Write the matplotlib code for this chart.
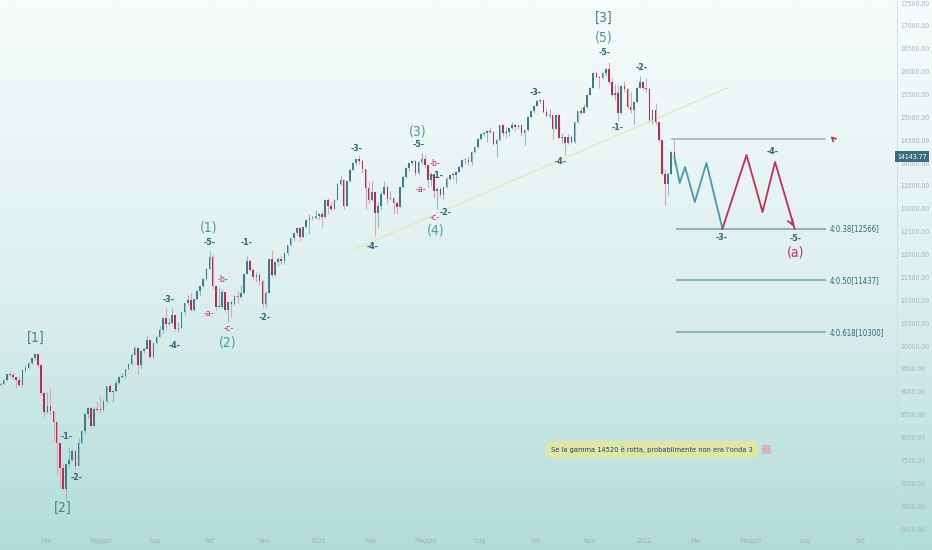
import numpy as np
import matplotlib.pyplot as plt
import matplotlib.dates as mdates
from matplotlib import font_manager
from matplotlib.colors import LinearSegmentedColormap
from matplotlib.transforms import blended_transform_factory
from datetime import datetime

# two candles per week, Nasdaq-like index
opens = [9150, 9179, 9251, 9388, 9370, 9315, 9269, 9150, 9467, 9520,
         9631, 9731, 9817, 9577, 8966, 8567, 8684, 8575, 8344, 7875,
         7335, 6880, 7418, 7502, 7700, 7373, 7887, 8153, 8515, 8650,
         8263, 8634, 8608, 8605, 8809, 9121, 9002, 9015, 9185, 9325,
         9340, 9490, 9608, 9815, 9953, 9589, 9895, 9946, 10131, 9757,
         10058, 10207, 10344, 10617, 10488, 10503, 10680, 10363, 10402, 10745,
         10941, 11011, 10782, 11019, 11210, 11312, 11466, 11695, 11939, 11313,
         10848, 10854, 11190, 10794, 10963, 10914, 11085, 11075, 11154, 11580,
         11863, 11672, 11516, 11548, 11431, 10911, 11161, 11895, 11553, 11829,
         11899, 11855, 12037, 12206, 12355, 12464, 12582, 12378, 12595, 12756,
         12807, 12805, 12850, 12888, 12819, 13202, 13072, 12998, 13197, 13543,
         13626, 13070, 13612, 13856, 14007, 14095, 14047, 13874, 13465, 13192,
         13359, 12920, 13073, 13320, 13471, 13215, 13227, 13138, 13045, 13480,
         13698, 13900, 13996, 14052, 13787, 14016, 14090, 13962, 13633, 13752,
         13389, 13430, 13303, 13471, 13657, 13749, 13736, 13814, 13925, 14069,
         14073, 14030, 14253, 14360, 14528, 14639, 14663, 14701, 14678, 14427,
         14498, 14837, 14660, 14673, 14761, 14835, 14788, 14823, 14656, 14714,
         15019, 15129, 15259, 15363, 15374, 15115, 15037, 15044, 14746, 15048,
         14547, 14567, 14433, 14580, 14465, 14897, 15129, 15090, 15236, 15498,
         15650, 15971, 15886, 15860, 15973, 16057, 15775, 15492, 15538, 15085,
         15686, 15630, 15237, 15170, 15341, 15653, 15781, 15645, 15622, 14936,
         15153, 14894, 14506, 13768, 13539, 13770, 14240]
highs = [9215, 9275, 9400, 9440, 9420, 9330, 9320, 9480, 9580, 9660,
         9740, 9838, 9830, 9580, 9000, 9000, 9090, 8590, 8360, 7880,
         7450, 7440, 7800, 7760, 7710, 7990, 8170, 8530, 8660, 8660,
         8660, 8810, 8920, 8840, 9130, 9200, 9040, 9250, 9340, 9410,
         9510, 9620, 9840, 10000, 9980, 9920, 9990, 10220, 10140, 10070,
         10230, 10430, 10630, 10830, 10620, 10830, 10700, 10530, 10760, 10950,
         11110, 11150, 11050, 11220, 11320, 11480, 11710, 12074, 12000, 11320,
         11300, 11250, 11200, 10970, 10980, 11120, 11200, 11340, 11600, 11965,
         11900, 11700, 11620, 11620, 11440, 11200, 11920, 12110, 11850, 11950,
         11970, 12060, 12210, 12360, 12470, 12590, 12600, 12600, 12770, 12880,
         12850, 12970, 12900, 12960, 13210, 13240, 13160, 13210, 13560, 13730,
         13660, 13620, 13880, 14010, 14100, 14175, 14060, 13880, 13620, 13600,
         13390, 13150, 13400, 13600, 13530, 13400, 13240, 13180, 13500, 13740,
         13910, 14000, 14070, 14060, 14040, 14211, 14180, 13970, 13800, 13760,
         13470, 13470, 13500, 13690, 13760, 13800, 13830, 13950, 14080, 14120,
         14160, 14260, 14370, 14540, 14650, 14700, 14730, 14800, 14700, 14520,
         14840, 14860, 14780, 14770, 14900, 14880, 14840, 14830, 14730, 15030,
         15140, 15270, 15380, 15403, 15390, 15200, 15190, 15050, 15060, 15060,
         14650, 14600, 14640, 14620, 14900, 15140, 15230, 15300, 15510, 15660,
         16000, 16020, 15900, 15990, 16090, 16212, 15860, 15720, 15700, 15700,
         15800, 15640, 15560, 15350, 15670, 15901, 15800, 15850, 15630, 15160,
         15320, 14900, 14510, 13870, 13800, 14260, 14520]
lows = [9120, 9160, 9240, 9340, 9290, 9090, 9130, 9100, 9440, 9500,
        9610, 9700, 9550, 8940, 8460, 8540, 8520, 7920, 7190, 6900,
        6860, 6631, 7350, 7480, 7290, 7370, 7850, 8100, 8430, 8240,
        8250, 8580, 8560, 8590, 8760, 8990, 8770, 9000, 9170, 9300,
        9300, 9470, 9590, 9800, 9400, 9520, 9860, 9940, 9750, 9740,
        10050, 10200, 10280, 10360, 10460, 10490, 10330, 10300, 10390, 10690,
        10900, 10770, 10770, 11000, 11100, 11300, 11450, 11690, 11250, 10800,
        10840, 10840, 10750, 10519, 10630, 10900, 10940, 11060, 11140, 11570,
        11640, 11440, 11410, 11330, 10822, 10850, 11150, 11520, 11540, 11760,
        11790, 11800, 12000, 12180, 12300, 12420, 12290, 12370, 12580, 12450,
        12760, 12780, 12770, 12600, 12800, 12890, 12960, 12980, 13190, 13520,
        13000, 13060, 13580, 13840, 13950, 13990, 13780, 13000, 13100, 13180,
        12397, 12600, 12980, 13300, 13100, 13190, 12880, 12910, 13040, 13460,
        13670, 13830, 13950, 13720, 13770, 13990, 13900, 13480, 13510, 13240,
        13002, 13250, 13200, 13460, 13640, 13650, 13570, 13800, 13900, 13980,
        13950, 13950, 14230, 14340, 14500, 14600, 14470, 14650, 14400, 14130,
        14480, 14600, 14560, 14600, 14740, 14700, 14740, 14600, 14400, 14700,
        14990, 15100, 15240, 15310, 15100, 15000, 14990, 14530, 14740, 14540,
        14420, 14181, 14410, 14430, 14440, 14880, 15080, 15090, 15200, 15480,
        15640, 15850, 15650, 15840, 15900, 15740, 15470, 15380, 14931, 15070,
        15560, 15190, 15100, 14861, 15330, 15640, 15600, 15550, 14900, 14860,
        14830, 14460, 13740, 13094, 13300, 13760, 13990]
closes = [9179, 9251, 9388, 9370, 9315, 9269, 9150, 9467, 9520, 9638,
          9731, 9817, 9577, 8966, 8567, 8684, 8575, 8344, 7875, 7335,
          6880, 7418, 7502, 7700, 7373, 7887, 8153, 8515, 8650, 8263,
          8634, 8608, 8605, 8809, 9121, 9002, 9015, 9185, 9325, 9340,
          9490, 9608, 9815, 9953, 9589, 9895, 9946, 10131, 9757, 10058,
          10207, 10344, 10617, 10488, 10503, 10680, 10363, 10402, 10745, 10941,
          11011, 10782, 11019, 11210, 11312, 11466, 11695, 11939, 11313, 10848,
          10854, 11190, 10794, 10963, 10914, 11085, 11075, 11154, 11580, 11863,
          11672, 11516, 11548, 11431, 10911, 11161, 11895, 11553, 11829, 11899,
          11855, 12037, 12206, 12355, 12464, 12582, 12378, 12595, 12756, 12807,
          12805, 12850, 12888, 12819, 13202, 13072, 12998, 13197, 13543, 13626,
          13070, 13612, 13856, 14007, 14095, 14047, 13874, 13465, 13192, 13359,
          12920, 13073, 13320, 13471, 13215, 13227, 13138, 13045, 13480, 13698,
          13900, 13996, 14052, 13787, 14016, 14090, 13962, 13633, 13752, 13389,
          13430, 13303, 13471, 13657, 13749, 13736, 13814, 13925, 14069, 14073,
          14030, 14253, 14360, 14528, 14639, 14663, 14701, 14678, 14427, 14498,
          14837, 14660, 14673, 14761, 14835, 14788, 14823, 14656, 14714, 15019,
          15129, 15259, 15363, 15374, 15115, 15037, 15044, 14746, 15048, 14547,
          14567, 14433, 14580, 14465, 14897, 15129, 15090, 15236, 15498, 15650,
          15971, 15886, 15860, 15973, 16057, 15775, 15492, 15538, 15085, 15686,
          15630, 15237, 15170, 15341, 15653, 15781, 15645, 15622, 14936, 15153,
          14894, 14506, 13768, 13539, 13770, 14240, 14143.77]
first_day = datetime(2020, 1, 10)
candle_step = 3.5   # calendar days per candle

# elliott wave labels: text, date, price
teal_labels = ['[1]', '[2]', '(1)', '(2)', '(3)', '(4)', '(5)', '[3]']
teal_dates = ['2020-02-18', '2020-03-20', '2020-08-31', '2020-09-21',
              '2021-04-22', '2021-05-12', '2021-11-17', '2021-11-17']
teal_prices = [10177, 6461, 12603, 10089, 14702, 12538, 16757, 17172]

minor_labels = ['-1-', '-2-', '-3-', '-4-', '-5-', '-1-', '-2-', '-3-', '-4-', '-5-',
                '-1-', '-2-', '-3-', '-4-', '-5-', '-1-', '-2-', '-3-', '-4-', '-5-']
minor_dates = ['2020-03-24', '2020-04-04', '2020-07-17', '2020-07-23', '2020-09-01',
               '2020-10-12', '2020-11-01', '2021-02-13', '2021-03-03', '2021-04-23',
               '2021-05-14', '2021-05-24', '2021-09-01', '2021-09-29', '2021-11-18',
               '2021-12-02', '2021-12-29', '2022-03-29', '2022-05-25', '2022-06-20']
minor_prices = [8013, 7117, 11029, 10024, 12275, 12275, 10636, 14330, 12188, 14418,
                13740, 12931, 15554, 14046, 16429, 14789, 16101, 12385, 14265, 12363]

abc_labels = ['-a-', '-b-', '-c-', '-a-', '-b-', '-c-']
abc_dates = ['2020-08-31', '2020-09-16', '2020-09-22', '2021-04-26', '2021-05-11', '2021-05-11']
abc_prices = [10723, 11466, 10395, 13434, 14002, 12822]

# projected path
proj_teal_dates = ['2022-02-04', '2022-02-10', '2022-02-16', '2022-02-27', '2022-03-12', '2022-03-30']
proj_teal_prices = [14143.77, 13565, 13915, 13150, 14002, 12566]
proj_red_dates = ['2022-03-30', '2022-04-26', '2022-05-14', '2022-05-28', '2022-06-19']
proj_red_prices = [12566, 14177, 12931, 14024, 12566]

fib_levels = [12566, 11437, 10300]
fib_texts = ['4:0.38[12566]', '4:0.50[11437]', '4:0.618[10300]']
fib_start, fib_end = '2022-02-07', '2022-07-23'
break_level = 14520
trend_dates = ['2021-02-08', '2022-04-04']
trend_prices = [12100, 15642]

month_ticks = ['2020-03-01', '2020-05-01', '2020-07-01', '2020-09-01', '2020-11-01',
               '2021-01-01', '2021-03-01', '2021-05-01', '2021-07-01', '2021-09-01',
               '2021-11-01', '2022-01-01', '2022-03-01', '2022-05-01', '2022-07-01',
               '2022-09-01']
month_names = ['Mar', 'Maggio', 'Lug', 'Set', 'Nov', '2021', 'Mar', 'Maggio', 'Lug',
               'Set', 'Nov', '2022', 'Mar', 'Maggio', 'Lug', 'Set']

# pick a narrow face if one is installed
fonts = font_manager.fontManager.ttflist
names = {f.name for f in fonts}
if 'Liberation Sans Narrow' in names:
    FONT = dict(family='Liberation Sans Narrow')
    k = 1.1
elif any(f.name == 'DejaVu Sans' and 'condensed' in str(f.stretch) for f in fonts):
    FONT = dict(family='DejaVu Sans', stretch='condensed')
    k = 0.8
else:
    FONT = dict(family='Liberation Sans')
    k = 0.8

up_body, up_wick = '#3e7d8e', '#8fbcc4'
dn_body, dn_wick = '#c02a52', '#e7a2b0'
teal = '#4a9aa6'
dark = '#2f6572'
red = '#c62d59'

d2n = mdates.datestr2num

fig = plt.figure(figsize=(9.32, 5.5), dpi=100)
bg = fig.add_axes([0, 0, 1, 1])
cmap = LinearSegmentedColormap.from_list('bg', ['#f7fcfc', '#dff0ef', '#b1ddd9'])
bg.imshow(np.linspace(0, 1, 256).reshape(-1, 1), aspect='auto', cmap=cmap,
          extent=[0, 1, 0, 1], origin='upper')
bg.axvline(897 / 932, color='#c4dfdd', lw=0.6)
bg.axhline(19 / 550, color='#c0dcda', lw=0.6)
bg.set_xlim(0, 1)
bg.set_ylim(0, 1)
bg.set_axis_off()

ax = fig.add_axes([0, 19 / 550, 897 / 932, 531 / 550])
ax.set_facecolor('none')
for s in ax.spines.values():
    s.set_visible(False)

o = np.array(opens, float)
h = np.array(highs, float)
l = np.array(lows, float)
c = np.array(closes, float)
x = mdates.date2num(first_day) + candle_step * np.arange(len(c))
up = c >= o

ax.vlines(x[up], l[up], h[up], color=up_wick, lw=0.8, zorder=2)
ax.vlines(x[~up], l[~up], h[~up], color=dn_wick, lw=0.8, zorder=2)
body = np.maximum(np.abs(c - o), 20)
ax.bar(x, body, bottom=np.minimum(o, c), width=1.8,
       color=np.where(up, up_body, dn_body), linewidth=0, zorder=3)

# trendline
ax.plot(d2n(trend_dates), trend_prices, color='#dfe9b9', lw=0.9, zorder=1)

# levels
ax.plot(d2n(['2022-02-01', fib_end]), [break_level, break_level], color='#8db3b8', lw=1.1, zorder=1)
ax.annotate('', xy=(d2n('2022-07-27'), break_level + 110), xytext=(d2n('2022-08-03'), break_level - 20),
            arrowprops=dict(arrowstyle='->', color=red, lw=1.2, mutation_scale=7))
for lev, txt in zip(fib_levels, fib_texts):
    ax.plot(d2n([fib_start, fib_end]), [lev, lev], color='#8fb5b9', lw=1.5, zorder=1)
    ax.text(d2n('2022-07-28'), lev, txt, color=dark, fontsize=7 * k, va='center', ha='left', **FONT)

# projection
ax.plot(d2n(proj_teal_dates), proj_teal_prices, color=teal, lw=1.3, zorder=4)
rd = d2n(proj_red_dates)
ax.plot(rd, proj_red_prices, color=red, lw=1.3, zorder=4)
ax.annotate('', xy=(rd[-1], proj_red_prices[-1]), xytext=(rd[-1] - 4, proj_red_prices[-1] + 150),
            arrowprops=dict(arrowstyle='->', color=red, lw=1.3, mutation_scale=9))

# wave labels
for t, d, p in zip(teal_labels, teal_dates, teal_prices):
    col = '#4c7f8d' if t.startswith('[') else teal
    ax.text(d2n(d), p, t, color=col, fontsize=12.5 * k, ha='center', va='center', **FONT)
for t, d, p in zip(minor_labels, minor_dates, minor_prices):
    ax.text(d2n(d), p, t, color=dark, fontsize=8 * k, ha='center', va='center',
            fontweight='bold', **FONT)
for t, d, p in zip(abc_labels, abc_dates, abc_prices):
    ax.text(d2n(d), p, t, color=red, fontsize=8 * k, ha='center', va='center', **FONT)
ax.text(d2n('2022-06-20'), 12057, '(a)', color=red, fontsize=12.5 * k, ha='center', va='center', **FONT)

# note
ax.text(d2n('2022-01-10'), 7740, "Se la gamma 14520 è rotta, probabilmente non era l'onda 3",
        color='#283c6c', fontsize=6.6 * k, ha='center', va='center', **FONT,
        bbox=dict(boxstyle='round,pad=0.7,rounding_size=0.7', fc='#dde8a8', ec='none'))
ax.text(d2n('2022-05-18'), 7770, '▦', color='#e79aa6', fontsize=8, ha='center', va='center')

ax.set_xlim(d2n('2020-01-09') + 0.4, d2n('2020-01-09') + 0.4 + 897 * 1.122)
ax.set_ylim(5958, 17566)

tick_font = font_manager.FontProperties(size=6.2 * k, **FONT)
ax.yaxis.tick_right()
ax.set_yticks(np.arange(6000, 17501, 500))
ax.set_yticklabels(['%.2f' % v for v in np.arange(6000, 17501, 500)])
ax.tick_params(axis='y', length=0, pad=2.5, labelcolor='#a7b6b8')
ax.set_xticks(d2n(month_ticks))
ax.set_xticklabels(month_names)
ax.tick_params(axis='x', length=0, pad=5, labelcolor='#a3b3b5')
for lab in ax.get_xticklabels() + ax.get_yticklabels():
    lab.set_fontproperties(tick_font)

# last price tag
tr = blended_transform_factory(ax.transAxes, ax.transData)
ax.text(1.0, c[-1], '%.2f' % c[-1], transform=tr, color='white', fontproperties=tick_font,
        va='center', ha='left', clip_on=False,
        bbox=dict(boxstyle='square,pad=0.35', fc='#3b6e7c', ec='none'))

fig.savefig('out.png', dpi=100)
